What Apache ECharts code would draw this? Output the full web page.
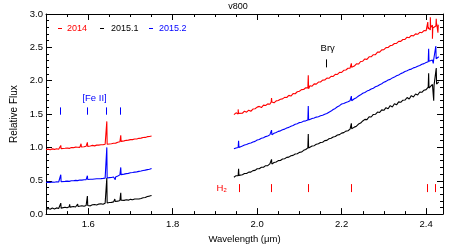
<!DOCTYPE html>
<html><head><meta charset="utf-8">
<script src="https://cdn.jsdelivr.net/npm/echarts@6/dist/echarts.min.js"></script>
<style>html,body{margin:0;padding:0;background:#fff}#c{width:457px;height:249px}</style>
</head><body><div id="c"></div>
<script>
// ---- sampling grids (µm) ----
const wlH = Array.from({length: 51}, (_, i) => +(1.500 + i * 0.005).toFixed(3));
const wlK = Array.from({length: 98}, (_, i) => +(1.945 + i * 0.005).toFixed(3));

// ---- continuum fluxes ----
const red2014_H = [0.965,0.974,0.966,0.978,0.970,0.981,0.973,0.985,0.978,0.988,
  0.992,0.985,0.998,0.996,1.004,1.002,1.000,1.012,1.010,1.018,
  1.022,1.020,1.030,1.023,1.034,1.034,1.040,1.039,1.047,1.046,
  1.052,1.054,1.062,1.064,1.077,1.084,1.096,1.098,1.106,1.109,
  1.117,1.117,1.126,1.127,1.136,1.139,1.149,1.150,1.161,1.164,1.170];
const blue20152_H = [0.473,0.479,0.474,0.482,0.478,0.485,0.481,0.489,0.485,0.491,
  0.495,0.491,0.500,0.500,0.506,0.502,0.510,0.510,0.515,0.516,
  0.521,0.522,0.522,0.526,0.530,0.531,0.532,0.535,0.539,0.541,
  0.547,0.549,0.556,0.557,0.572,0.588,0.597,0.599,0.607,0.611,
  0.619,0.623,0.629,0.633,0.641,0.645,0.653,0.659,0.667,0.673,0.684];
const black20151_H = [0.066,0.084,0.072,0.090,0.078,0.093,0.083,0.099,0.088,0.103,
  0.096,0.109,0.101,0.114,0.106,0.120,0.112,0.124,0.117,0.129,
  0.133,0.124,0.140,0.144,0.135,0.150,0.154,0.147,0.162,0.166,
  0.174,0.176,0.183,0.184,0.194,0.203,0.214,0.206,0.216,0.209,
  0.221,0.214,0.226,0.226,0.227,0.234,0.246,0.249,0.264,0.270,0.280];

const red2014_K = [1.492,1.518,1.500,1.528,1.512,1.543,1.528,1.558,1.542,1.575,1.580,
  1.604,1.615,1.598,1.634,1.628,1.652,1.646,1.674,1.668,1.698,
  1.702,1.722,1.728,1.750,1.748,1.780,1.770,1.806,1.804,1.834,
  1.842,1.866,1.868,1.894,1.892,1.924,1.918,1.952,1.948,1.980,
  1.980,2.008,2.010,2.038,2.036,2.066,2.064,2.096,2.094,2.126,
  2.124,2.156,2.160,2.186,2.188,2.220,2.220,2.254,2.250,2.288,
  2.292,2.326,2.320,2.358,2.358,2.390,2.390,2.428,2.428,2.462,
  2.466,2.496,2.498,2.526,2.532,2.558,2.560,2.590,2.590,2.618,
  2.618,2.652,2.644,2.678,2.672,2.702,2.696,2.726,2.720,2.752,
  2.748,2.800,2.760,2.832,2.780,2.858,2.846];
const blue20152_K = [0.978,0.992,0.998,1.014,1.020,1.036,1.044,1.058,1.066,1.082,1.090,
  1.110,1.118,1.136,1.144,1.162,1.170,1.188,1.196,1.212,1.222,
  1.240,1.248,1.264,1.274,1.292,1.300,1.318,1.328,1.346,1.356,
  1.372,1.378,1.394,1.398,1.412,1.418,1.432,1.440,1.454,1.460,
  1.474,1.482,1.498,1.508,1.528,1.544,1.568,1.584,1.610,1.626,
  1.650,1.658,1.674,1.684,1.700,1.710,1.730,1.746,1.770,1.788,
  1.812,1.824,1.844,1.856,1.876,1.888,1.908,1.920,1.940,1.954,
  1.978,1.990,2.010,2.020,2.042,2.054,2.074,2.086,2.106,2.118,
  2.138,2.148,2.166,2.174,2.192,2.202,2.218,2.228,2.246,2.256,
  2.272,2.284,2.300,2.310,2.328,2.340,2.358];
const black20151_K = [0.552,0.576,0.574,0.592,0.590,0.608,0.608,0.630,0.630,0.652,0.656,
  0.680,0.680,0.702,0.702,0.726,0.726,0.752,0.752,0.774,0.780,
  0.802,0.804,0.826,0.830,0.850,0.854,0.874,0.880,0.900,0.904,
  0.926,0.930,0.956,0.968,0.994,0.998,1.020,1.026,1.048,1.054,
  1.074,1.078,1.102,1.106,1.130,1.136,1.156,1.164,1.186,1.192,
  1.214,1.222,1.244,1.250,1.274,1.282,1.304,1.318,1.350,1.364,
  1.396,1.420,1.416,1.460,1.456,1.494,1.496,1.530,1.524,1.562,
  1.556,1.596,1.580,1.626,1.606,1.654,1.638,1.682,1.676,1.708,
  1.710,1.748,1.726,1.776,1.756,1.800,1.786,1.830,1.826,1.858,
  1.866,1.904,1.878,1.944,1.906,1.972,1.984];

// ---- emission lines / spikes: [wavelength, continuum, peak] ----
const redSpikesH = [[1.535,0.982,1.03],[1.583,1.006,1.055],[1.598,1.016,1.075],[1.644,1.047,1.39],[1.677,1.09,1.18]];
const blueSpikesH = [[1.535,0.484,0.59],[1.598,0.518,0.575],[1.644,0.542,1.0],[1.664,0.557,0.515],[1.677,0.592,0.70]];
const blackSpikesH = [[1.535,0.090,0.165],[1.556,0.104,0.145],[1.575,0.114,0.15],[1.598,0.128,0.27],[1.644,0.166,0.54],[1.663,0.19,0.225],[1.677,0.208,0.32]];
const redSpikesK = [[1.955,1.51,1.57],[2.034,1.68,1.74],[2.121,1.88,2.08],[2.166,2.02,2.05],[2.223,2.20,2.26],[2.404,2.77,2.88],[2.410,2.80,2.95],[2.415,2.79,2.63],[2.424,2.82,2.93],[2.428,2.84,2.72]];
const blueSpikesK = [[1.956,1.00,1.10],[2.034,1.19,1.26],[2.121,1.41,1.62],[2.223,1.70,1.77],[2.406,2.29,2.48],[2.417,2.31,2.26],[2.423,2.33,2.52]];
const blackSpikesK = [[1.956,0.58,0.68],[2.034,0.75,0.82],[2.121,0.99,1.20],[2.223,1.28,1.36],[2.406,1.89,2.11],[2.418,1.93,1.70],[2.424,1.95,2.19]];

// ---- line identification ticks: [wavelength, y0, y1] ----
const feIITicks = [[1.533,1.49,1.60],[1.598,1.49,1.60],[1.642,1.49,1.60],[1.676,1.49,1.60]];
const h2Ticks = [[1.956,0.33,0.45],[2.032,0.33,0.45],[2.120,0.33,0.45],[2.221,0.33,0.45],[2.403,0.33,0.45],[2.420,0.33,0.45]];
const brgTicks = [[2.164,2.20,2.32]];
const lineLabels = [[1.615,1.74,'[Fe II]','#0000ff'],[1.916,0.385,'H₂','#ff0000'],[2.167,2.48,'Brγ','#000000']];

// ---- axes ----
const xMajor = [1.6,1.8,2.0,2.2,2.4];
const legendItems = [['2014','#ff0000'],['2015.1','#000000'],['2015.2','#0000ff']];

const FONT = 'Liberation Sans';
function build(wl, flux, spikes){
  const pts = wl.map((x,i)=>[x, flux[i]]);
  spikes.forEach(([x,b,p]) => { pts.push([x-0.0008,b],[x,p],[x+0.0008,b]); });
  pts.sort((a,b)=>a[0]-b[0]);
  return pts;
}
function spec(name, data, color){
  return {name, type:'line', data, showSymbol:false, symbol:'none', xAxisIndex:0, yAxisIndex:0,
    lineStyle:{color, width:1.1}, itemStyle:{color}, animation:false, silent:true, z:3};
}
function ticks(data, color){
  return {type:'custom', xAxisIndex:0, yAxisIndex:0, data, animation:false, silent:true, z:4,
    renderItem(params, api){
      const a = api.coord([api.value(0), api.value(1)]);
      const b = api.coord([api.value(0), api.value(2)]);
      const x = Math.round(a[0]) + 0.5;
      return {type:'line', shape:{x1:x, y1:a[1], x2:x, y2:b[1]}, style:{stroke:color, lineWidth:1}};
    }};
}
const labelSeries = {type:'custom', xAxisIndex:0, yAxisIndex:0, animation:false, silent:true, z:5,
  data: lineLabels.map(l=>[l[0], l[1]]),
  renderItem(params, api){
    const p = api.coord([api.value(0), api.value(1)]);
    const l = lineLabels[params.dataIndex];
    return {type:'text', x:p[0], y:p[1], style:{text:l[2], fill:l[3], fontSize:9.5, fontFamily:FONT, align:'center', verticalAlign:'middle'}};
  }};

const axisCommon = {type:'value', min:1.5, max:2.44, splitLine:{show:false}};
const chart = echarts.init(document.getElementById('c'), null, {renderer:'canvas'});
const legendX = [[58,67],[100,111],[149,159]];
const graphics = [{type:'text', x:238, y:6.5, style:{text:'v800', fill:'#000', fontSize:9, fontFamily:FONT, align:'center', verticalAlign:'middle'}}];
legendItems.forEach((it,i)=>{
  graphics.push({type:'line', shape:{x1:legendX[i][0], y1:28.5, x2:legendX[i][0]+4, y2:28.5}, style:{stroke:it[1], lineWidth:1}});
  graphics.push({type:'text', x:legendX[i][1], y:28.5, style:{text:it[0], fill:it[1], fontSize:9, fontFamily:FONT, verticalAlign:'middle'}});
});

chart.setOption({
  animation:false,
  grid:{left:46, right:14, top:14, bottom:30, containLabel:false},
  xAxis:[
    Object.assign({}, axisCommon, {position:'bottom', interval:0.05,
      axisLine:{show:true, lineStyle:{color:'#000', width:1}},
      axisTick:{show:true, inside:true, length:3, lineStyle:{color:'#000'}},
      axisLabel:{show:false}}),
    Object.assign({}, axisCommon, {position:'bottom',
      name:'Wavelength (μm)', nameLocation:'middle', nameGap:16,
      nameTextStyle:{color:'#000', fontSize:9.5, fontFamily:FONT},
      axisLine:{show:false},
      axisTick:{show:true, inside:true, length:6, customValues:xMajor, lineStyle:{color:'#000'}},
      axisLabel:{show:true, customValues:xMajor, formatter:v=>v.toFixed(1), color:'#000', fontSize:9.5, fontFamily:FONT, margin:5}}),
    Object.assign({}, axisCommon, {position:'top', interval:0.05,
      axisLine:{show:true, lineStyle:{color:'#000', width:1}},
      axisTick:{show:true, inside:true, length:3, lineStyle:{color:'#000'}},
      axisLabel:{show:false}}),
    Object.assign({}, axisCommon, {position:'top',
      axisLine:{show:false},
      axisTick:{show:true, inside:true, length:6, customValues:xMajor, lineStyle:{color:'#000'}},
      axisLabel:{show:false, customValues:xMajor}})
  ],
  yAxis:[
    {type:'value', min:0, max:3, interval:0.5, position:'left',
      name:'Relative Flux', nameLocation:'middle', nameGap:21,
      nameTextStyle:{color:'#000', fontSize:10, fontFamily:FONT},
      splitLine:{show:false},
      axisLine:{show:true, lineStyle:{color:'#000', width:1}},
      axisTick:{show:true, inside:true, length:6, lineStyle:{color:'#000'}},
      minorTick:{show:true, splitNumber:5, length:3, lineStyle:{color:'#000'}},
      axisLabel:{formatter:v=>v.toFixed(1), color:'#000', fontSize:9.5, fontFamily:FONT, margin:3}},
    {type:'value', min:0, max:3, interval:0.5, position:'right',
      splitLine:{show:false},
      axisLine:{show:true, lineStyle:{color:'#000', width:1}},
      axisTick:{show:true, inside:true, length:6, lineStyle:{color:'#000'}},
      minorTick:{show:true, splitNumber:5, length:3, lineStyle:{color:'#000'}},
      axisLabel:{show:false}}
  ],
  graphic: graphics,
  series:[
    spec('2014', build(wlH, red2014_H, redSpikesH), '#ff0000'),
    spec('2014', build(wlK, red2014_K, redSpikesK), '#ff0000'),
    spec('2015.1', build(wlH, black20151_H, blackSpikesH), '#000000'),
    spec('2015.1', build(wlK, black20151_K, blackSpikesK), '#000000'),
    spec('2015.2', build(wlH, blue20152_H, blueSpikesH), '#0000ff'),
    spec('2015.2', build(wlK, blue20152_K, blueSpikesK), '#0000ff'),
    ticks(feIITicks, '#0000ff'),
    ticks(h2Ticks, '#ff0000'),
    ticks(brgTicks, '#000000'),
    labelSeries
  ]
});
</script></body></html>
